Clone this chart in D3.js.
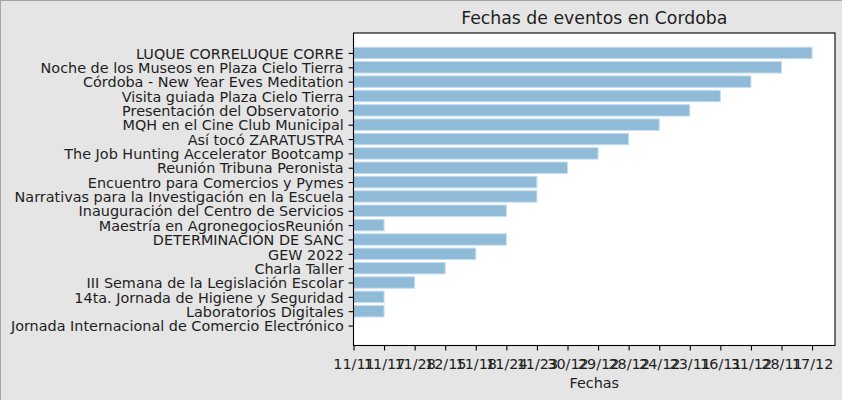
<!DOCTYPE html>
<html>
<head>
<meta charset="utf-8">
<script src="https://cdn.jsdelivr.net/npm/d3@7"></script>
<style>
  html, body { margin: 0; padding: 0; background: #e5e5e5; }
  svg { display: block; font-family: "DejaVu Sans", sans-serif; }
</style>
</head>
<body>
<svg id="chart" width="842" height="400"></svg>
<script>
// Categorical date labels on the x axis (in order of first appearance)
const fechas = ["11/11","11/17","11/28","12/15","11/18","11/24","11/23","30/12",
                "29/12","28/12","24/12","23/11","16/11","31/12","28/11","17/12"];

// Events, bottom to top
const eventos = [
  "Jornada Internacional de Comercio Electrónico",
  "Laboratorios Digitales",
  "14ta. Jornada de Higiene y Seguridad",
  "III Semana de la Legislación Escolar",
  "Charla Taller",
  "GEW 2022",
  "DETERMINACIÓN DE SANC",
  "Maestría en AgronegociosReunión",
  "Inauguración del Centro de Servicios",
  "Narrativas para la Investigación en la Escuela",
  "Encuentro para Comercios y Pymes",
  "Reunión Tribuna Peronista",
  "The Job Hunting Accelerator Bootcamp",
  "Así tocó ZARATUSTRA",
  "MQH en el Cine Club Municipal",
  "Presentación del Observatorio ",
  "Visita guiada Plaza Cielo Tierra",
  "Córdoba - New Year Eves Meditation",
  "Noche de los Museos en Plaza Cielo Tierra",
  "LUQUE CORRELUQUE CORRE"
];

// Date of each event (same order as eventos)
const fechaEvento = [
  "11/11","11/17","11/17","11/28","12/15","11/18","11/24","11/17","11/24","11/23",
  "11/23","30/12","29/12","28/12","24/12","23/11","16/11","31/12","28/11","17/12"
];

const title = "Fechas de eventos en Cordoba";
const xLabel = "Fechas";

(function () {
const svg = d3.select("#chart");
const W = 842, H = 400;
const mL = 353.5, mR = 835, mT = 33, mB = 345.5;
const ink = "#1e1e1e";

svg.append("rect").attr("width", W).attr("height", H).attr("fill", "#e5e5e5");
// figure border (top + left)
svg.append("line").attr("x1", 0).attr("x2", W).attr("y1", 0.5).attr("y2", 0.5)
   .attr("stroke", "#a3a3a3").attr("stroke-width", 1);
svg.append("line").attr("x1", 0.5).attr("x2", 0.5).attr("y1", 0).attr("y2", H)
   .attr("stroke", "#a3a3a3").attr("stroke-width", 1);

const n = eventos.length;
const maxX = fechas.length - 1;
const x = d3.scaleLinear().domain([0, maxX * 1.05]).range([mL, mR]);
const yPad = 0.05 * (n - 1 + 0.8);
const y = d3.scaleLinear().domain([-0.4 - yPad, n - 1 + 0.4 + yPad]).range([mB, mT]);

svg.append("rect").attr("x", mL).attr("y", mT)
   .attr("width", mR - mL).attr("height", mB - mT).attr("fill", "#ffffff");

const barH = y(0) - y(0.8);
svg.append("g").selectAll("rect")
  .data(eventos.map((e, i) => ({ e, i, v: fechas.indexOf(fechaEvento[i]) })))
  .join("rect")
  .attr("x", x(0))
  .attr("y", d => y(d.i + 0.4))
  .attr("width", d => x(d.v) - x(0))
  .attr("height", barH)
  .attr("fill", "#8fbbd9")
  .attr("stroke", "#c8def0")
  .attr("stroke-width", 1);

const fs = 14.4;
// x axis
const gx = svg.append("g").attr("transform", `translate(0,${mB})`)
  .call(d3.axisBottom(x).tickValues(d3.range(fechas.length))
        .tickFormat(i => fechas[i]).tickSize(4.9).tickPadding(4.9).tickSizeOuter(0));
gx.select(".domain").remove();
gx.selectAll("line").attr("stroke", "#000").attr("stroke-width", 1.1);
gx.selectAll("text").attr("font-size", fs).attr("fill", ink)
  .attr("font-family", "DejaVu Sans").attr("dy", "0.97em");

// y axis
const gy = svg.append("g").attr("transform", `translate(${mL},0)`)
  .call(d3.axisLeft(y).tickValues(d3.range(n))
        .tickFormat(i => eventos[i]).tickSize(4.9).tickPadding(4.9).tickSizeOuter(0));
gy.select(".domain").remove();
gy.selectAll("line").attr("stroke", "#000").attr("stroke-width", 1.1);
gy.selectAll("text").attr("font-size", fs).attr("fill", ink)
  .attr("font-family", "DejaVu Sans").attr("dy", "0.36em")
  .style("white-space", "pre");

// spines
svg.append("rect").attr("x", mL).attr("y", mT)
   .attr("width", mR - mL).attr("height", mB - mT)
   .attr("fill", "none").attr("stroke", "#000").attr("stroke-width", 1.1);

// title
svg.append("text").attr("x", (mL + mR) / 2).attr("y", 24)
   .attr("text-anchor", "middle").attr("font-size", 17.3).attr("fill", ink)
   .text(title);

// x label
svg.append("text").attr("x", (mL + mR) / 2).attr("y", 388)
   .attr("text-anchor", "middle").attr("font-size", fs).attr("fill", ink)
   .text(xLabel);
})();
</script>
</body>
</html>
